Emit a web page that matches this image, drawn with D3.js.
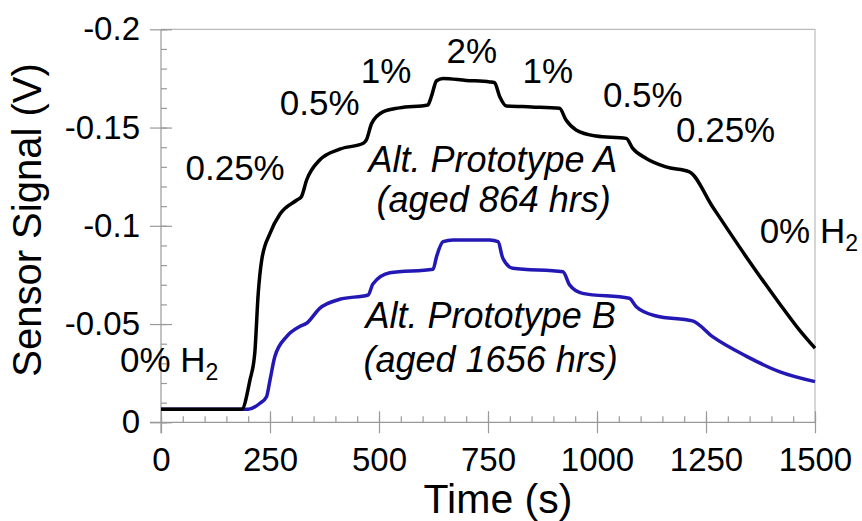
<!DOCTYPE html>
<html lang="en">
<head>
  <meta charset="UTF-8">
  <title>Sensor signal vs time</title>
  <script src="https://d3js.org/d3.v7.min.js"></script>
  <style>
    body { margin: 0; background: #fff; }
    svg { font-family: "Liberation Sans", Arial, sans-serif; }
  </style>
</head>
<body>
  <div id="chart"></div>
  <script>
    // black curve: Alt. Prototype A (aged 864 hrs)
    const timeA = [0, 100, 185, 204, 215, 223, 231, 250, 273, 311, 322, 334, 364, 410, 464, 471, 483, 509, 547, 612,
      620, 632, 647, 700, 754, 765, 777, 792, 850, 914, 929, 952, 998, 1067, 1082, 1113, 1158, 1212, 1265, 1342,
      1418, 1464, 1500];
    const signalA = [-0.0066, -0.0066, -0.0066, -0.0215, -0.035, -0.0656, -0.0826, -0.0962, -0.106, -0.113, -0.1148,
      -0.1233, -0.1335, -0.139, -0.142, -0.1437, -0.152, -0.158, -0.160, -0.1615, -0.1657, -0.1738, -0.175, -0.1740,
      -0.1732, -0.1728, -0.1657, -0.161, -0.1605, -0.1598, -0.1538, -0.1488, -0.1457, -0.1445, -0.1394, -0.1343,
      -0.130, -0.1275, -0.1097, -0.0843, -0.0606, -0.047, -0.0377];

    // blue curve: Alt. Prototype B (aged 1656 hrs)
    const timeB = [0, 100, 200, 227, 242, 250, 261, 288, 318, 334, 364, 410, 475, 486, 525, 624, 632, 647, 670, 754,
      773, 784, 807, 922, 937, 967, 1074, 1090, 1136, 1219, 1265, 1342, 1418, 1500];
    const signalB = [-0.0066, -0.0066, -0.0066, -0.0097, -0.013, -0.0215, -0.0334, -0.0436, -0.0487, -0.0504, -0.058,
      -0.0626, -0.0648, -0.0704, -0.0761, -0.0779, -0.0843, -0.0919, -0.0928, -0.0928, -0.0919, -0.0835, -0.0784,
      -0.0766, -0.0699, -0.0656, -0.0631, -0.0588, -0.0541, -0.0516, -0.0436, -0.0337, -0.0258, -0.0207];

    const xTicks = [0, 250, 500, 750, 1000, 1250, 1500];
    const yTicks = [0, -0.05, -0.1, -0.15, -0.2];

    // concentration labels, anchored in data coordinates (time, signal)
    const concLabels = ["0.25%", "0.5%", "1%", "2%", "1%", "0.5%", "0.25%"];
    const concTimes = [170, 364, 516, 713, 887, 1105, 1295];
    const concSignals = [-0.1233, -0.1564, -0.1727, -0.1829, -0.1727, -0.1605, -0.1427];

    const width = 862, height = 521;
    const x = d3.scaleLinear().domain([0, 1500]).range([161, 815]);
    const y = d3.scaleLinear().domain([0, -0.2]).range([422.3, 29.3]);

    const svg = d3.select("#chart").append("svg")
      .attr("width", width)
      .attr("height", height);

    // frame on top and right
    svg.append("path")
      .attr("d", `M${x(0)},${y(-0.2)}H${x(1500)}V${y(0)}`)
      .attr("fill", "none")
      .attr("stroke", "#bbb")
      .attr("stroke-width", 1.2);

    // minor ticks, pointing into the plot
    svg.append("g")
      .attr("transform", `translate(0,${y(0)})`)
      .call(d3.axisBottom(x).tickValues(d3.range(0, 1501, 50)).tickSize(-6).tickFormat(""))
      .call(g => g.select(".domain").remove())
      .selectAll("line").attr("stroke", "#999");
    svg.append("g")
      .attr("transform", `translate(${x(0)},0)`)
      .call(d3.axisLeft(y).tickValues(d3.range(0, 21).map(i => -i / 100)).tickSize(-6).tickFormat(""))
      .call(g => g.select(".domain").remove())
      .selectAll("line").attr("stroke", "#999");

    // major axes
    const xAxis = svg.append("g")
      .attr("transform", `translate(0,${y(0)})`)
      .call(d3.axisBottom(x).tickValues(xTicks).tickSize(11).tickPadding(14).tickSizeOuter(0)
        .tickFormat(d => String(d)));
    xAxis.selectAll(".tick line").attr("y1", -11).attr("y2", 11);
    xAxis.select(".domain").attr("d", `M${x(0) - 11},0H${x(1500)}`);

    const yAxis = svg.append("g")
      .attr("transform", `translate(${x(0)},0)`)
      .call(d3.axisLeft(y).tickValues(yTicks).tickSize(11).tickPadding(10).tickSizeOuter(0)
        .tickFormat(d => String(+d.toFixed(2))));
    yAxis.selectAll(".tick line").attr("x1", -11).attr("x2", 11);
    yAxis.select(".domain").attr("d", `M0,${y(-0.2)}V${y(0) + 11}`);

    svg.selectAll(".domain, .tick line").attr("stroke", "#999").attr("stroke-width", 1.2);
    svg.selectAll(".tick text")
      .attr("fill", "#000")
      .style("font-size", "33px")
      .style("font-family", "'Liberation Sans', Arial, sans-serif");

    // axis titles
    svg.append("text")
      .attr("x", 498)
      .attr("y", 513)
      .attr("text-anchor", "middle")
      .style("font-size", "41px")
      .text("Time (s)");

    svg.append("text")
      .attr("transform", "translate(41,220) rotate(-90)")
      .attr("text-anchor", "middle")
      .style("font-size", "40px")
      .text("Sensor Signal (V)");

    // curves
    const line = d3.line()
      .x(d => x(d[0]))
      .y(d => y(d[1]))
      .curve(d3.curveMonotoneX);

    svg.append("path")
      .datum(d3.zip(timeB, signalB))
      .attr("fill", "none")
      .attr("stroke", "#2318b4")
      .attr("stroke-width", 3.5)
      .attr("stroke-linejoin", "round")
      .attr("d", line);

    svg.append("path")
      .datum(d3.zip(timeA, signalA))
      .attr("fill", "none")
      .attr("stroke", "#000")
      .attr("stroke-width", 3.5)
      .attr("stroke-linejoin", "round")
      .attr("d", line);

    // concentration step labels
    svg.append("g")
      .selectAll("text")
      .data(concLabels)
      .join("text")
      .attr("x", (d, i) => x(concTimes[i]))
      .attr("y", (d, i) => y(concSignals[i]))
      .attr("text-anchor", "middle")
      .style("font-size", "35px")
      .text(d => d);

    // "0% H2" labels with subscript
    function h2Label(t, v) {
      const txt = svg.append("text")
        .attr("x", x(t))
        .attr("y", y(v))
        .style("font-size", "35px");
      txt.append("tspan").text("0% H");
      txt.append("tspan").attr("dy", 8).style("font-size", "23px").text("2");
    }
    h2Label(-94, -0.0256);
    h2Label(1373, -0.0912);

    // series labels
    const seriesNotes = [
      ["Alt. Prototype A", 761, -0.1275],
      ["(aged 864 hrs)", 763, -0.1068],
      ["Alt. Prototype B", 756, -0.0481],
      ["(aged 1656 hrs)", 756, -0.0255]
    ];
    svg.append("g")
      .selectAll("text")
      .data(seriesNotes)
      .join("text")
      .attr("x", d => x(d[1]))
      .attr("y", d => y(d[2]))
      .attr("text-anchor", "middle")
      .style("font-size", "36px")
      .style("font-style", "italic")
      .text(d => d[0]);
  </script>
</body>
</html>
